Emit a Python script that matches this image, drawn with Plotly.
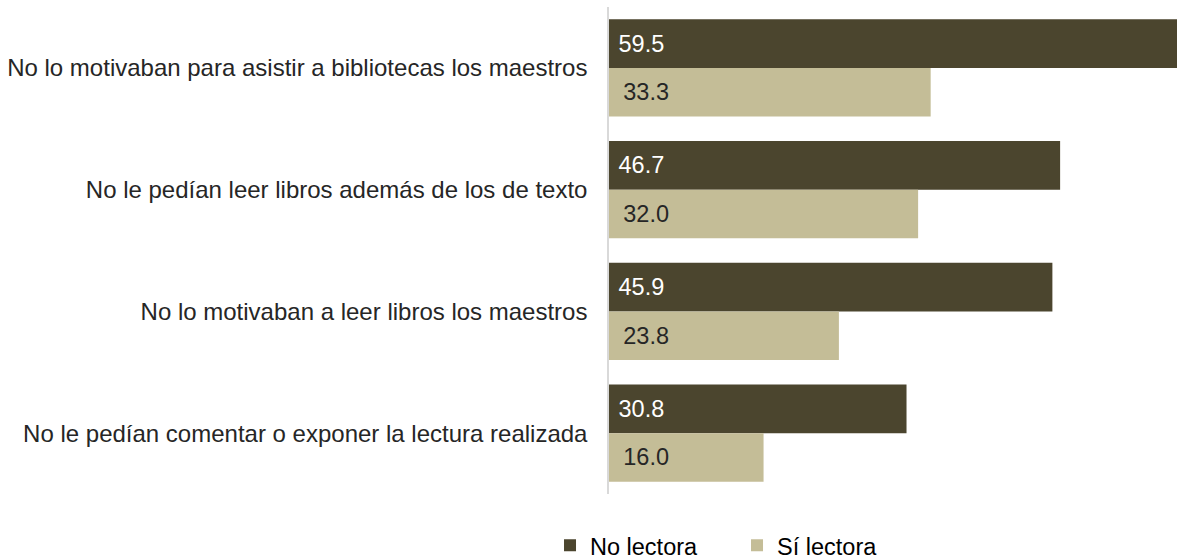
import plotly.graph_objects as go

categories = [
    "No lo motivaban para asistir a bibliotecas los maestros",
    "No le pedían leer libros además de los de texto",
    "No lo motivaban a leer libros los maestros",
    "No le pedían comentar o exponer la lectura realizada",
]
no_lectora = [59.5, 46.7, 45.9, 30.8]
si_lectora = [33.3, 32.0, 23.8, 16.0]
series_names = ["No lectora", "Sí lectora"]

DARK = "#4B452E"
LIGHT = "#C4BD97"
FONT = "Liberation Sans, Arial, sans-serif"

fig = go.Figure()
fig.add_trace(go.Bar(
    y=categories, x=no_lectora, name=series_names[0], orientation="h",
    marker=dict(color=DARK, line=dict(width=0)),
    texttemplate="\u00a0%{x:.1f}", textposition="inside", insidetextanchor="start",
    textfont=dict(family=FONT, size=23.5, color="#FFFFFF"),
    constraintext="none", cliponaxis=True,
))
fig.add_trace(go.Bar(
    y=categories, x=si_lectora, name=series_names[1], orientation="h",
    marker=dict(color=LIGHT, line=dict(width=0)),
    texttemplate="\u00a0\u2009%{x:.1f}", textposition="inside", insidetextanchor="start",
    textfont=dict(family=FONT, size=23.5, color="#262626"),
    constraintext="none", cliponaxis=True,
))

fig.update_layout(
    width=1177, height=559,
    barmode="group", bargap=0.2, bargroupgap=0,
    margin=dict(l=609, r=0, t=7, b=65, autoexpand=False),
    paper_bgcolor="white", plot_bgcolor="white",
    font=dict(family=FONT, color="#262626"),
    xaxis=dict(range=[0, 58.8], showgrid=False, zeroline=False, showticklabels=False,
               showline=False, ticks=""),
    yaxis=dict(autorange="reversed", showgrid=False, zeroline=False,
               showline=True, linecolor="#D9D9D9", linewidth=1.5,
               ticks="", ticklabelstandoff=15,
               tickfont=dict(family=FONT, size=24, color="#262626")),
    legend=dict(orientation="h", xref="container", yref="container",
                x=0.4673, xanchor="left", y=0.024, yanchor="middle",
                font=dict(family=FONT, size=23.5, color="#000000"),
                entrywidth=142, entrywidthmode="pixels",
                traceorder="normal", bgcolor="rgba(0,0,0,0)"),
    showlegend=True,
)

fig.write_html(
    "out.html",
    config={"displayModeBar": False},
    post_script="document.body.style.margin='0';document.body.style.overflow='hidden';",
)
